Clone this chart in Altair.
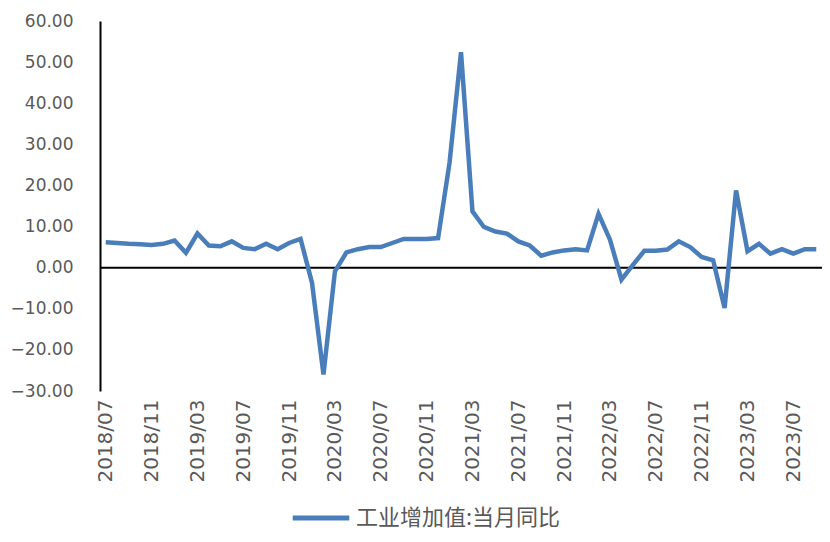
import altair as alt
import pandas as pd

# monthly categories 2018/07 .. 2023/09
months = [p.strftime("%Y/%m") for p in pd.period_range("2018-07", "2023-09", freq="M")]

values = [
    6.2, 6.0, 5.8, 5.7, 5.5, 5.8, 6.6, 3.6, 8.3, 5.4,
    5.2, 6.4, 4.8, 4.5, 5.8, 4.5, 6.0, 7.0, -3.7, -26.0,
    -0.9, 3.7, 4.5, 5.0, 5.0, 6.0, 7.0, 7.0, 7.0, 7.2,
    25.5, 52.4, 13.7, 9.9, 8.8, 8.3, 6.4, 5.4, 2.9, 3.7,
    4.2, 4.5, 4.2, 13.1, 6.8, -2.9, 0.7, 4.1, 4.1, 4.4,
    6.4, 5.0, 2.6, 1.8, -9.8, 18.8, 4.0, 5.8, 3.4, 4.5,
    3.4, 4.5, 4.5,
]

series_name = "工业增加值:当月同比"
tick_labels = months[::4]

df = pd.DataFrame({"month": months, "value": values, "series": series_name})

line = alt.Chart(df).mark_line(strokeWidth=4.5).encode(
    x=alt.X("month:N", sort=None, title=None,
            scale=alt.Scale(type="point", padding=0.5),
            axis=alt.Axis(values=tick_labels, labelAngle=-90, domain=False, ticks=False,
                          labelPadding=8, labelFont="DejaVu Sans", labelFontSize=20,
                          labelColor="#595959", labelAlign="right", labelBaseline="middle")),
    y=alt.Y("value:Q", title=None,
            scale=alt.Scale(domain=[-30, 60], nice=False),
            axis=alt.Axis(values=list(range(-30, 61, 10)), format=".2f", grid=False, ticks=False,
                          domainColor="black", domainWidth=2, labelPadding=27,
                          labelFont="DejaVu Sans", labelFontSize=17, labelColor="#595959")),
    color=alt.Color("series:N", scale=alt.Scale(range=["#4A7EBB"]),
                    legend=alt.Legend(title=None, orient="none", legendX=190, legendY=466,
                                      symbolType="stroke", symbolSize=3200, symbolStrokeWidth=5,
                                      labelFont="Noto Sans CJK SC", labelFontSize=22,
                                      labelColor="#595959", labelLimit=600)),
)

zero = alt.Chart(pd.DataFrame({"y": [0]})).mark_rule(color="black", strokeWidth=2).encode(y="y:Q")

chart = (zero + line).properties(
    width=722,
    height=370,
    autosize=alt.AutoSizeParams(type="none"),
    padding={"left": 92, "top": 13, "right": 0, "bottom": 142},
).configure_view(stroke=None)

chart.save("out.html", embed_options={"renderer": "svg", "actions": False})
